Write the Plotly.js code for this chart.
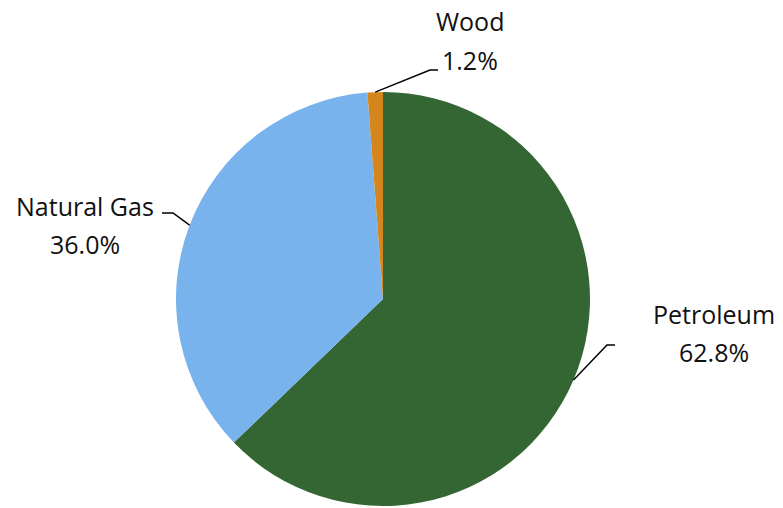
<!DOCTYPE html>
<html>
<head>
<meta charset="utf-8">
<script src="https://cdn.plot.ly/plotly-3.0.1.min.js"></script>
<style>html,body{margin:0;padding:0;background:#fff;}#chart{width:783px;height:508px;}</style>
</head>
<body>
<div id="chart"></div>
<script>
var categories = ["Petroleum", "Natural Gas", "Wood"];
var shares = [62.8, 36.0, 1.2];
var pctLabels = ["62.8%", "36.0%", "1.2%"];
var colors = ["#336633", "#79B3EE", "#D4861C"];

var W = 783, H = 508;
var cx = 383, cy = 299, R = 207;
// label placement (pixel offsets of elbow / text) per category
var elbows = [[607, 345, 615], [173, 213, 162], [430, 70, 438]];
var labelPos = [[714, 314, 352], [85, 206, 244], [470, 21, 60]];

function px(x){ return x / W; }
function py(y){ return 1 - y / H; }

var total = shares.reduce(function(a,b){return a+b;}, 0);
var shapes = [], annotations = [];
var cum = 0;
var font = {family: "Open Sans", size: 25, color: "#111111"};
for (var i = 0; i < shares.length; i++) {
  var mid = (cum + shares[i] / 2) / total * 2 * Math.PI;
  cum += shares[i];
  var sx = cx + R * Math.sin(mid), sy = cy - R * Math.cos(mid);
  var e = elbows[i];
  shapes.push({
    type: "path", xref: "paper", yref: "paper",
    path: "M " + px(sx) + "," + py(sy) + " L " + px(e[0]) + "," + py(e[1]) + " L " + px(e[2]) + "," + py(e[1]),
    line: {color: "#000000", width: 1.5}
  });
  var lp = labelPos[i];
  annotations.push({xref: "paper", yref: "paper", x: px(lp[0]), y: py(lp[1]), text: categories[i],
    showarrow: false, xanchor: "center", yanchor: "middle", font: font});
  annotations.push({xref: "paper", yref: "paper", x: px(lp[0]), y: py(lp[2]), text: pctLabels[i],
    showarrow: false, xanchor: "center", yanchor: "middle", font: font});
}

var data = [{
  type: "pie",
  labels: categories,
  values: shares,
  sort: false,
  direction: "clockwise",
  rotation: 0,
  textinfo: "none",
  hoverinfo: "label+percent",
  marker: {colors: colors, line: {width: 0}},
  domain: {x: [(cx - R) / W, (cx + R) / W], y: [(H - cy - R) / H, (H - cy + R) / H]}
}];

var layout = {
  width: W, height: H,
  margin: {l: 0, r: 0, t: 0, b: 0},
  paper_bgcolor: "#ffffff",
  showlegend: false,
  shapes: shapes,
  annotations: annotations
};

Plotly.newPlot("chart", data, layout, {displayModeBar: false, staticPlot: true});
</script>
</body>
</html>
